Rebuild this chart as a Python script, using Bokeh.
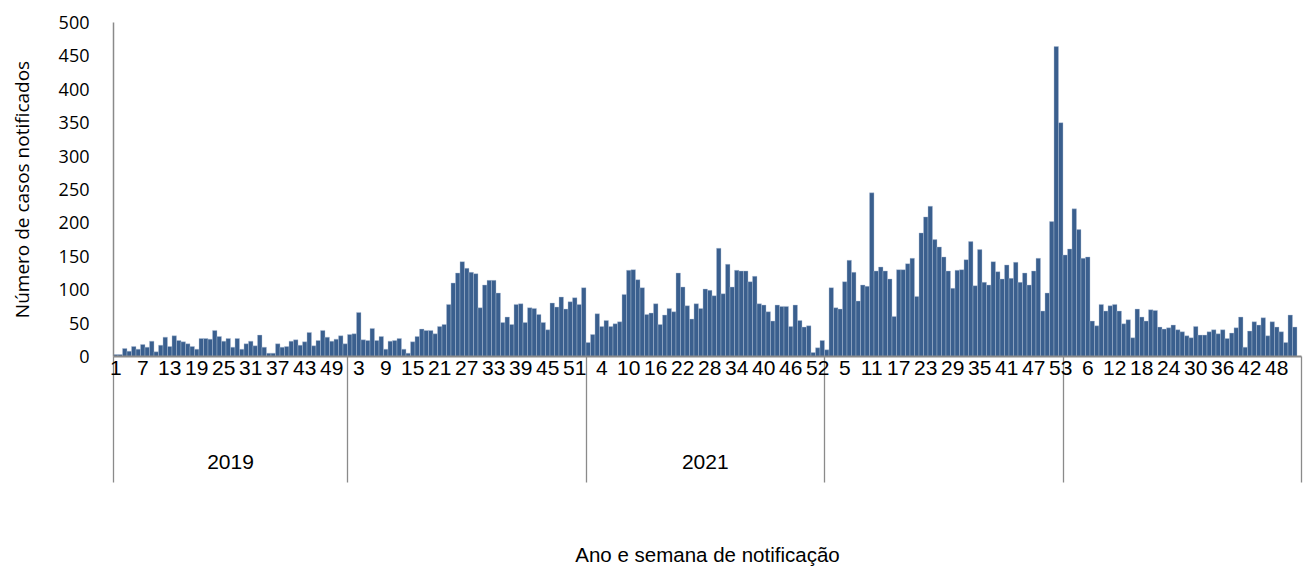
from bokeh.plotting import figure
from bokeh.models import Range1d, FixedTicker, LinearAxis, ColumnDataSource
from bokeh.embed import file_html
from bokeh.resources import INLINE

# ---------------- data ----------------
years = ["2019", "2020", "2021", "2022", "2023"]
labeled_years = ["2019", "2021"]

cases_2019 = [3, 3, 12, 8, 15, 11, 18, 14, 23, 7,
              17, 29, 15, 31, 24, 22, 19, 15, 11, 27,
              27, 26, 39, 30, 23, 27, 14, 27, 11, 19,
              23, 16, 32, 14, 5, 5, 19, 14, 15, 23,
              25, 17, 22, 36, 16, 24, 39, 29, 23, 26,
              31, 19]
cases_2020 = [33, 34, 66, 25, 24, 42, 24, 30, 11, 23,
              24, 27, 11, 5, 22, 30, 41, 39, 39, 34,
              45, 48, 78, 110, 125, 142, 132, 126, 124, 73,
              107, 114, 114, 95, 51, 59, 48, 78, 79, 51,
              73, 72, 63, 51, 40, 80, 74, 89, 71, 82,
              88, 78, 103]
cases_2021 = [21, 33, 64, 45, 54, 45, 49, 52, 93, 129,
              130, 115, 103, 63, 65, 79, 48, 62, 72, 67,
              125, 104, 76, 56, 79, 72, 101, 99, 91, 162,
              94, 138, 104, 129, 128, 128, 112, 120, 79, 77,
              67, 53, 77, 75, 75, 45, 77, 54, 44, 46,
              6, 13, 24]
cases_2022 = [10, 103, 73, 71, 112, 144, 126, 83, 107, 105,
              245, 128, 134, 128, 116, 60, 130, 130, 139, 147,
              90, 185, 209, 225, 175, 164, 149, 128, 102, 129,
              130, 145, 172, 106, 160, 111, 107, 142, 127, 116,
              137, 117, 141, 111, 125, 107, 128, 147, 68, 95,
              202, 464, 350]
cases_2023 = [152, 161, 221, 190, 147, 149, 53, 46, 78, 68,
              76, 78, 68, 49, 55, 28, 71, 59, 53, 70,
              69, 44, 41, 43, 47, 40, 37, 31, 28, 45,
              32, 32, 37, 40, 34, 40, 27, 35, 43, 59,
              14, 38, 52, 47, 58, 31, 52, 44, 37, 21,
              62, 44]

series = [cases_2019, cases_2020, cases_2021, cases_2022, cases_2023]
y_ticks = list(range(0, 501, 50))

# ---------------- build positions ----------------
xs, tops, weeks, year_of = [], [], [], []
year_start = []
idx = 0
for yr, vals in zip(years, series):
    year_start.append(idx)
    for w, v in enumerate(vals, start=1):
        xs.append(idx)
        tops.append(v)
        weeks.append(w)
        year_of.append(yr)
        idx += 1
n_bars = idx

week_tick_pos = [i for i in range(n_bars) if i % 6 == 0]
week_tick_lbl = {i: str(weeks[i]) for i in week_tick_pos}

x_start, x_end = -0.5, n_bars + 0.5
separators = [s - 0.5 for s in year_start] + [x_end]

year_tick_pos = []
year_tick_lbl = {}
for yr, s, vals in zip(years, year_start, series):
    if yr in labeled_years:
        c = s + (len(vals) - 1) / 2.0
        year_tick_pos.append(c)
        year_tick_lbl[c] = yr

src = ColumnDataSource(dict(x=xs, cases=tops, week=weeks, year=year_of))

# ---------------- figure ----------------
GRAY = "#8a8a8a"
BAR = "#3a5f8e"
SEP_LEN = 126

p = figure(width=1304, height=570,
           x_range=Range1d(x_start, x_end), y_range=Range1d(0, 500),
           output_backend="svg", toolbar_location=None,
           min_border_left=113, min_border_right=3,
           min_border_top=22, min_border_bottom=214)
p.outline_line_color = None
p.xgrid.visible = False
p.ygrid.visible = False
p.background_fill_color = "white"
p.border_fill_color = "white"

p.vbar(x="x", top="cases", width=1.0, source=src,
       fill_color=BAR, line_color="#b4c4da", line_width=0.5, line_alpha=0.8)

# y axis
ya = p.yaxis[0]
ya.ticker = FixedTicker(ticks=y_ticks)
ya.major_tick_out = 0
ya.major_tick_in = 0
ya.minor_tick_out = 0
ya.minor_tick_in = 0
ya.axis_line_color = GRAY
ya.axis_line_width = 1.5
ya.major_label_standoff = 24
ya.major_label_text_font = "Open Sans"
ya.major_label_text_font_size = "18px"
ya.major_label_text_color = "#000000"
ya.axis_label = "Número de casos notificados"
ya.axis_label_text_font = "Open Sans"
ya.axis_label_text_font_size = "19px"
ya.axis_label_text_font_style = "normal"
ya.axis_label_text_color = "#000000"
ya.axis_label_standoff = 21

# week axis (with year separators as minor ticks)
xa = p.xaxis[0]
xa.ticker = FixedTicker(ticks=week_tick_pos, minor_ticks=separators)
xa.major_label_overrides = week_tick_lbl
xa.major_tick_out = 0
xa.major_tick_in = 0
xa.minor_tick_in = 0
xa.minor_tick_out = SEP_LEN
xa.minor_tick_line_color = GRAY
xa.minor_tick_line_width = 1.3
xa.axis_line_color = GRAY
xa.axis_line_width = 2
xa.major_label_standoff = 4 - SEP_LEN
xa.major_label_text_font = "Liberation Sans"
xa.major_label_text_font_size = "21px"
xa.major_label_text_color = "#000000"

# year axis
yr_axis = LinearAxis(ticker=FixedTicker(ticks=year_tick_pos, minor_ticks=[]),
                     major_label_overrides=year_tick_lbl)
yr_axis.axis_line_color = None
yr_axis.major_tick_line_color = None
yr_axis.minor_tick_line_color = None
yr_axis.major_tick_out = 0
yr_axis.major_tick_in = 0
yr_axis.major_label_standoff = 77
yr_axis.major_label_text_font = "Liberation Sans"
yr_axis.major_label_text_font_size = "21px"
yr_axis.major_label_text_color = "#000000"
yr_axis.axis_label = "Ano e semana de notificação"
yr_axis.axis_label_text_font = "Liberation Sans"
yr_axis.axis_label_text_font_size = "20.5px"
yr_axis.axis_label_text_font_style = "normal"
yr_axis.axis_label_text_color = "#000000"
yr_axis.axis_label_standoff = 71
p.add_layout(yr_axis, "below")

open("out.html", "w").write(file_html(p, INLINE))
